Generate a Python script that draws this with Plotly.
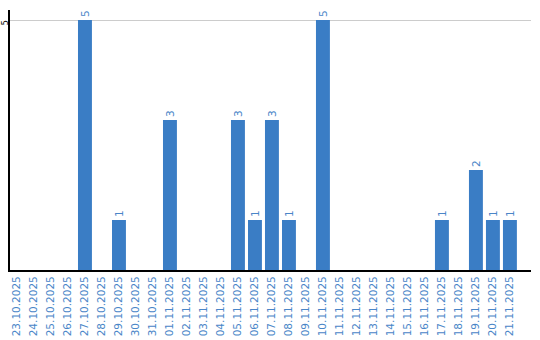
import plotly.graph_objects as go

dates = ["23.10.2025", "24.10.2025", "25.10.2025", "26.10.2025", "27.10.2025",
         "28.10.2025", "29.10.2025", "30.10.2025", "31.10.2025", "01.11.2025",
         "02.11.2025", "03.11.2025", "04.11.2025", "05.11.2025", "06.11.2025",
         "07.11.2025", "08.11.2025", "09.11.2025", "10.11.2025", "11.11.2025",
         "12.11.2025", "13.11.2025", "14.11.2025", "15.11.2025", "16.11.2025",
         "17.11.2025", "18.11.2025", "19.11.2025", "20.11.2025", "21.11.2025"]
counts = [0, 0, 0, 0, 5,
          0, 1, 0, 0, 3,
          0, 0, 0, 3, 1,
          3, 1, 0, 5, 0,
          0, 0, 0, 0, 0,
          1, 0, 2, 1, 1]
labels = [str(v) if v else "" for v in counts]

blue = "#3a7dc5"

fig = go.Figure(go.Bar(
    x=dates, y=counts, text=labels, textposition="outside", textangle=-90,
    textfont=dict(family="DejaVu Sans", size=10.5, color="#4a86c8"),
    marker=dict(color=blue, line=dict(width=0)),
    cliponaxis=False,
))

fig.update_layout(
    width=540, height=340,
    margin=dict(l=10, r=9, t=10, b=70),
    paper_bgcolor="white", plot_bgcolor="white",
    bargap=0.18, showlegend=False,
    font=dict(family="DejaVu Sans", size=10.5, color="#4a86c8"),
)
fig.update_xaxes(
    type="category", range=[-0.41, 30.24], showgrid=False, automargin=False,
    showline=True, linecolor="black", linewidth=2, ticks="",
    tickangle=-90, tickfont=dict(family="DejaVu Sans", size=10.5, color="#4a86c8"),
)
fig.update_yaxes(
    range=[0, 5.2], tickvals=[5], ticktext=["5"], showgrid=True, gridcolor="#cccccc",
    gridwidth=1, zeroline=False, showline=True, linecolor="black", linewidth=2,
    automargin=False, ticks="", ticklabelstandoff=-3, ticklabelshift=4, tickangle=-90,
    tickfont=dict(family="DejaVu Sans", size=8, color="black"),
)

fig.write_html("out.html")
